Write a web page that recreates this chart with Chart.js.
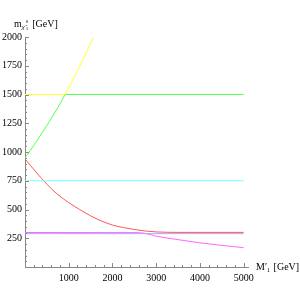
<!DOCTYPE html>
<html>
<head>
<meta charset="utf-8">
<script src="https://cdn.jsdelivr.net/npm/chart.js@4"></script>
<style>
  html, body { margin: 0; padding: 0; background: #fff; }
  #wrap { width: 300px; height: 300px; }
</style>
</head>
<body>
<div id="wrap"><canvas id="massChart"></canvas></div>
<script>
// values (M'_1 in GeV -> neutralino mass in GeV)
const yellowX = [0, 917, 1000, 1250, 1500, 1558];
const yellowY = [1500, 1500, 1560, 1745, 1945, 1998];
const greenX = [0, 250, 500, 750, 917, 5000];
const greenY = [948, 1085, 1230, 1385, 1500, 1500];
const cyanX = [0, 5000];
const cyanY = [750, 750];
const redX = [0, 250, 500, 750, 1000, 1250, 1500, 1750, 2000, 2250, 2500, 2750, 3000, 3250, 3500, 5000];
const redY = [940, 826, 720, 630, 560, 500, 445, 400, 365, 343, 326, 313, 305, 302, 301, 301];
const magentaX = [0, 2600, 2800, 3000, 3500, 4000, 4500, 5000];
const magentaY = [300, 299, 288, 268, 238, 210, 188, 168];
const blueX = [0, 5000];
const blueY = [290, 290];

const xMajor = [1000, 2000, 3000, 4000, 5000];
const yMajor = [250, 500, 750, 1000, 1250, 1500, 1750, 2000];

const FONT = "'Liberation Serif', 'Times New Roman', serif";

function pts(xs, ys) {
    return xs.map((x, i) => ({ x: x, y: ys[i] }));
}

function line(xs, ys, color, curved) {
    return {
        data: pts(xs, ys),
        borderColor: color,
        borderWidth: 1,
        pointRadius: 0,
        fill: false,
        tension: curved ? 0.4 : 0,
        cubicInterpolationMode: curved ? 'monotone' : 'default',
    };
}

// inward ticks and axis titles, Mathematica style
const axisDeco = {
    id: 'axisDeco',
    afterDraw(chart) {
        const c = chart.ctx;
        const xs = chart.scales.x;
        const ys = chart.scales.y;
        const x0 = xs.getPixelForValue(0);
        const y0 = ys.getPixelForValue(0);
        c.save();
        c.strokeStyle = '#888';
        c.lineWidth = 1;
        c.beginPath();
        for (let v = 200; v <= 5000; v += 200) {
            const px = Math.round(xs.getPixelForValue(v)) + 0.5;
            const len = v % 1000 === 0 ? 4 : 2;
            c.moveTo(px, y0);
            c.lineTo(px, y0 - len);
        }
        for (let v = 50; v <= 2000; v += 50) {
            const py = Math.round(ys.getPixelForValue(v)) + 0.5;
            const len = v % 250 === 0 ? 4 : 2;
            c.moveTo(x0, py);
            c.lineTo(x0 + len, py);
        }
        c.stroke();

        c.fillStyle = '#000';
        c.textBaseline = 'alphabetic';
        c.textAlign = 'left';
        // y title: m_{chi~1^0} [GeV]
        let tx = 14, ty = 27;
        c.font = '10px ' + FONT;
        c.fillText('m', tx, ty);
        tx += c.measureText('m').width;
        c.font = 'italic 7px ' + FONT;
        c.fillText('χ̃', tx, ty + 2);
        c.font = '5px ' + FONT;
        c.fillText('1', tx + 4, ty + 3);
        c.fillText('0', tx + 4, ty - 4);
        tx += 8;
        c.font = '10px ' + FONT;
        c.fillText(' [GeV]', tx, ty);
        // x title: M'_1 [GeV]
        tx = 256; ty = 270;
        c.fillText('M′', tx, ty);
        tx += c.measureText('M′').width;
        c.font = '6px ' + FONT;
        c.fillText('1', tx, ty + 2);
        tx += 4;
        c.font = '10px ' + FONT;
        c.fillText(' [GeV]', tx, ty);
        c.restore();
    },
};

const ctx = document.getElementById('massChart').getContext('2d');
new Chart(ctx, {
    type: 'line',
    data: {
        datasets: [
            line(yellowX, yellowY, '#ffff33', false),
            line(greenX, greenY, '#55ff55', false),
            line(cyanX, cyanY, '#77ffff', false),
            line(redX, redY, '#ff5555', true),
            line(blueX, blueY, '#a8a8ff', false),
            line(magentaX, magentaY, '#ff66ff', true),
        ],
    },
    options: {
        responsive: true,
        maintainAspectRatio: false,
        animation: false,
        events: [],
        layout: { padding: { top: 37, right: 52, bottom: 0, left: 0 } },
        plugins: {
            legend: { display: false },
            tooltip: { enabled: false },
        },
        scales: {
            x: {
                type: 'linear',
                min: 0,
                max: 5100,
                afterFit(scale) { scale.height = 33; },
                afterBuildTicks(scale) { scale.ticks = xMajor.map(v => ({ value: v })); },
                grid: { display: false, drawTicks: false },
                border: { display: true, color: '#888', width: 1 },
                ticks: {
                    padding: 5,
                    maxRotation: 0,
                    color: '#000',
                    font: { family: FONT, size: 10 },
                    callback: v => String(v),
                },
            },
            y: {
                type: 'linear',
                min: 0,
                max: 2000,
                afterFit(scale) { scale.width = 25; },
                afterBuildTicks(scale) { scale.ticks = yMajor.map(v => ({ value: v })); },
                grid: { display: false, drawTicks: false },
                border: { display: true, color: '#888', width: 1 },
                ticks: {
                    padding: 3,
                    color: '#000',
                    font: { family: FONT, size: 10 },
                    callback: v => String(v),
                },
            },
        },
    },
    plugins: [axisDeco],
});
</script>
</body>
</html>
